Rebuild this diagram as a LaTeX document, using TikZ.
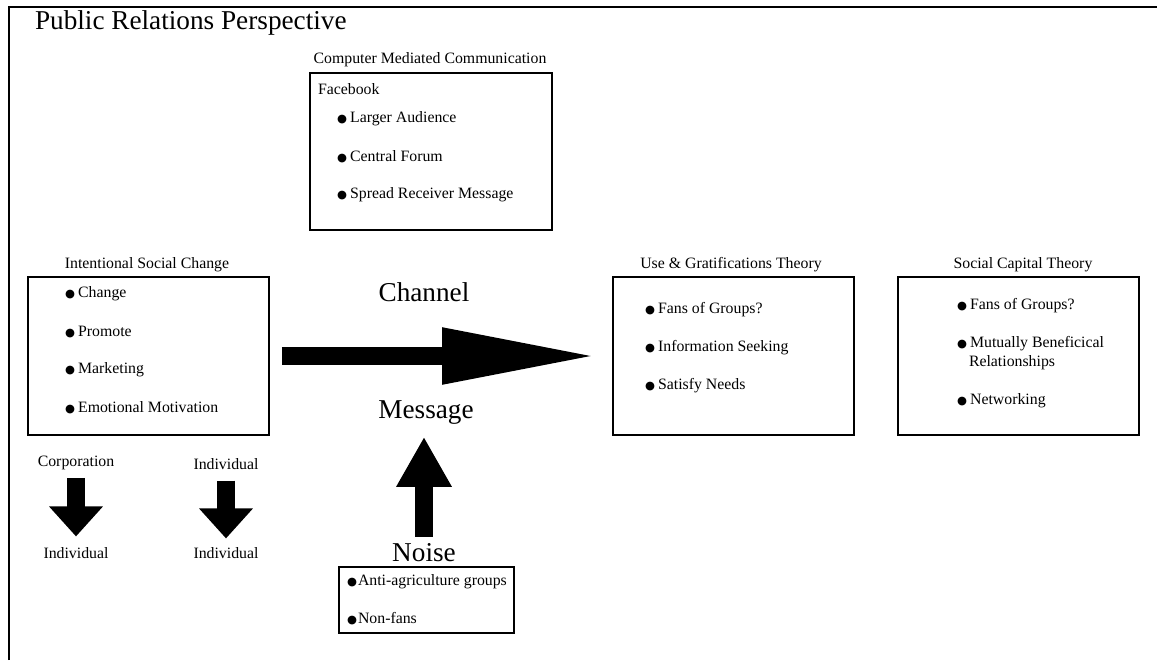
\documentclass[tikz,border=0pt]{standalone}
\usepackage{fontspec}
\setmainfont{Liberation Serif}
\newfontfamily\symfont{DejaVu Sans}
\usetikzlibrary{arrows.meta}
\newcommand\smtxt{\fontsize{9}{11}\selectfont}
\newcommand\bigtxt{\fontsize{15.5}{18}\selectfont}
\newcommand\bul{{\symfont\fontsize{6.5}{6.5}\selectfont ●}\hspace{1.8pt}}
\newcommand\tbul{{\symfont\fontsize{6.5}{6.5}\selectfont ●}\hspace{0.6pt}}

\begin{document}
\begin{tikzpicture}[x=0.02cm, y=-0.02cm]
\tikzset{ inner sep=0pt, outer sep=0pt,
  box/.style={draw, line width=1pt},
  txt/.style={font=\smtxt},
  item/.style={font=\smtxt, anchor=west},
  big/.style={font=\bigtxt},
  blockarrow/.style={line width=0.36cm, -{Triangle[length=#1, width=1.04cm]}},
}

\useasboundingbox (0,0) rectangle (1157,660);

%\draw [lightgray, dashed](0,0) grid (1157,660);

% frame
\draw [line width=1.3pt] (9,660) -- (9,7) -- (1157,7);

\node [anchor=west, font=\fontsize{15.5}{18}\selectfont] (TTL) at (35,23) {Public Relations Perspective};

% boxes
\node [box, minimum width=4.84cm, minimum height=3.14cm] (FB)  at (431,151.5) {};
\node [box, minimum width=4.82cm, minimum height=3.16cm] (ISC) at (148.5,356) {};
\node [box, minimum width=4.82cm, minimum height=3.16cm] (UG)  at (733.5,356) {};
\node [box, minimum width=4.82cm, minimum height=3.16cm] (SC)  at (1018.5,356) {};
\node [box, minimum width=3.50cm, minimum height=1.32cm] (NB)  at (426.5,600) {};

% titles
\node [txt] (CMC) at (430,60)  {Computer Mediated Communication};
\node [txt] (ISCt) at (147,265) {Intentional Social Change};
\node [txt] (UGt) at (731,265) {Use \& Gratifications Theory};
\node [txt] (SCt) at (1023,265) {Social Capital Theory};

% Facebook
\node [item] (FB0) at (318,89)  {Facebook};
\node [item] (FB1) at (337,119) {\bul Larger Audience};
\node [item] (FB2) at (337,157) {\bul Central Forum};
\node [item] (FB3) at (337,195) {\bul Spread Receiver Message};

% intentional social change
\node [item] (IS1) at (65,294) {\bul Change};
\node [item] (IS2) at (65,332) {\bul Promote};
\node [item] (IS3) at (65,370) {\bul Marketing};
\node [item] (IS4) at (65,408) {\bul Emotional Motivation};

% use & gratifications
\node [item] (UG1) at (645,310) {\bul Fans of Groups?};
\node [item] (UG2) at (645,348) {\bul Information Seeking};
\node [item] (UG3) at (645,386) {\bul Satisfy Needs};

% social capital
\node [item] (SC1) at (957,306) {\bul Fans of Groups?};
\node [item] (SC2) at (957,344) {\bul Mutually Beneficical};
\node [item] (SC2b) at (969,363) {Relationships};
\node [item] (SC3) at (957,401) {\bul Networking};

% noise
\node [item] (NB1) at (347,582) {\tbul Anti-agriculture groups};
\node [item] (NB2) at (347,619) {\tbul Non-fans};

\node [big] (CH)  at (424,292) {Channel};
\node [big] (MSG) at (426,413) {Message};
\node [big] (NS)  at (424,553) {Noise};

\node [txt] (CORP) at (76,463)  {Corporation};
\node [txt] (IN1)  at (76,553)  {Individual};
\node [txt] (IN2)  at (226,464) {Individual};
\node [txt] (IN3)  at (226,553) {Individual};

% arrows
\draw [blockarrow=3.12cm, shorten <=0.26cm, shorten >=0.3cm] (ISC.east) -- (UG.west);
\draw [blockarrow=1cm, shorten <=0.14cm, shorten >=0.24cm] (NS.north) -- (NS.north |- MSG.south);
\draw [blockarrow=0.6cm, shorten <=0.16cm, shorten >=0.22cm] (CORP) -- (IN1);
\draw [blockarrow=0.6cm, shorten <=0.22cm, shorten >=0.18cm] (IN2) -- (IN3);

\end{tikzpicture}
\end{document}
